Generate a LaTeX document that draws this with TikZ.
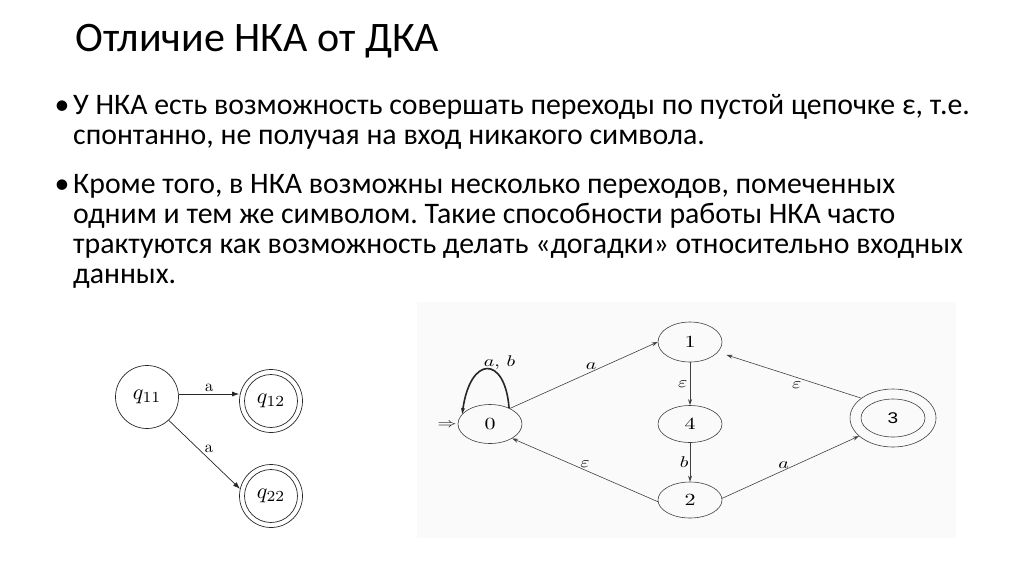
\documentclass[tikz,border=0pt]{standalone}
\usepackage{graphicx}
\usepackage[no-math]{fontspec}
\setmainfont{Carlito}
\newfontfamily\helv{Liberation Sans}
\usetikzlibrary{shapes.geometric,arrows.meta}
\newcommand\sz[3]{\scalebox{#1}[#2]{#3}}
\frenchspacing
\begin{document}
\begin{tikzpicture}[x=1pt,y=-1pt,
 titletext/.style={anchor=base west, inner sep=0, font=\fontsize{42}{48}\selectfont},
 bodytext/.style={anchor=base west, inner sep=0, font=\fontsize{29.8}{32}\selectfont},
 bul/.style={anchor=base, inner sep=0, font=\fontsize{29.8}{32}\selectfont},
 lstate/.style={circle, draw=black!85, line width=0.7pt, minimum size=63pt, inner sep=0, font=\fontsize{10}{12}\selectfont},
 ledge/.style={draw=black!85, line width=0.7pt, -{Latex[length=7pt,width=5pt]}},
 llab/.style={font=\fontsize{10}{12}\selectfont, inner sep=2pt},
 rstate/.style={ellipse, draw=black!75, line width=0.6pt, minimum width=64pt, minimum height=39pt, inner sep=0, font=\fontsize{10}{12}\selectfont},
 redge/.style={draw=black!75, line width=0.6pt, -{Stealth[length=6pt,width=4pt]}},
 rlab/.style={font=\fontsize{10}{12}\selectfont, inner sep=2pt},
]
\useasboundingbox (0,0) rectangle (1024,574);
\fill[white] (0,0) rectangle (1024,574);
\fill[black!2] (417,302) rectangle (956,538);

% texts
\node[titletext] (title) at (75,51) {Отличие НКА от ДКА};
\node[bul] (bu1) at (62,114) {•};
\node[bodytext] (l1) at (73,114) {У НКА есть возможность совершать переходы по пустой цепочке ε, т.е.};
\node[bodytext] (l2) at (73,144) {спонтанно, не получая на вход никакого символа.};
\node[bul] (bu2) at (62,193) {•};
\node[bodytext] (l3) at (73,193) {Кроме того, в НКА возможны несколько переходов, помеченных};
\node[bodytext] (l4) at (73,223) {одним и тем же символом. Такие способности работы НКА часто};
\node[bodytext] (l5) at (73,253) {трактуются как возможность делать «догадки» относительно входных};
\node[bodytext] (l6) at (73,283) {данных.};

% left diagram
\node[lstate] (q11) at (147,397) {\sz{2.2}{2.2}{$q_{11}$}};
\node[lstate] (q12) at (271,401) {\sz{2.2}{2.2}{$q_{12}$}};
\node[lstate] (q22) at (271,496) {\sz{2.2}{2.2}{$q_{22}$}};
\draw[draw=black!85, line width=0.7pt] (q12.center) circle[radius=26.5pt];
\draw[draw=black!85, line width=0.7pt] (q22.center) circle[radius=26.5pt];
\draw[ledge] ([yshift=3pt]q11.east) -- ([yshift=3pt]q11.east -| q12.west) node[llab, midway, above] {\sz{1.65}{1.65}{$\mathrm{a}$}};
\draw[ledge] (q11.-47) -- (q22.167) node[llab, midway, above right, xshift=-2pt] {\sz{1.65}{1.65}{$\mathrm{a}$}};

% right diagram
\node[rstate] (n0) at (490,424) {\sz{2.2}{1.7}{$0$}};
\node[rstate, minimum height=40pt] (n1) at (690,342) {\sz{2.2}{1.7}{$1$}};
\node[rstate, minimum height=37pt] (n4) at (690,424) {\sz{2.2}{1.7}{$4$}};
\node[rstate, minimum height=36pt] (n2) at (690,500) {\sz{2.2}{1.7}{$2$}};
\node[rstate, minimum width=86pt, minimum height=58pt] (n3) at (893,418) {\sz{1.9}{1.55}{\helv 3}};
\draw[draw=black!75, line width=0.6pt] (n3.center) ellipse[x radius=32pt, y radius=19pt];
\node[inner sep=0, font=\fontsize{10}{12}\selectfont] (start) at (447,425) {\sz{1.9}{1.3}{$\Rightarrow$}};

\draw[draw=black!85, line width=1.6pt, -{Stealth[length=6pt,width=4pt]}] (n0.40) .. controls (505,355) and (470,355) .. (n0.160)
  node[rlab, pos=0.5, above right, inner sep=0pt, xshift=-4pt, yshift=-1pt] {\sz{2.0}{1.55}{$a,\,b$}};
\draw[redge] (n0.38) -- (n1.180) node[rlab, pos=0.55, above] {\sz{2.0}{1.55}{$a$}};
\draw[redge, line width=0.9pt] (n1) -- (n4) node[rlab, midway, left] {\sz{2.0}{1.55}{$\varepsilon$}};
\draw[redge, line width=0.9pt] (n4) -- (n2) node[rlab, midway, left, inner sep=1pt] {\sz{2.0}{1.55}{$b$}};
\draw[redge] (n2.183) -- (n0.-33) node[rlab, pos=0.5, above] {\sz{2.0}{1.55}{$\varepsilon$}};
\draw[redge, shorten >=9pt] (n3.148) -- (n1.-20) node[rlab, pos=0.45, below, yshift=-2pt] {\sz{2.0}{1.55}{$\varepsilon$}};
\draw[redge] (n2.3) -- (n3.208) node[rlab, pos=0.45, above] {\sz{2.0}{1.55}{$a$}};
\end{tikzpicture}
\end{document}
